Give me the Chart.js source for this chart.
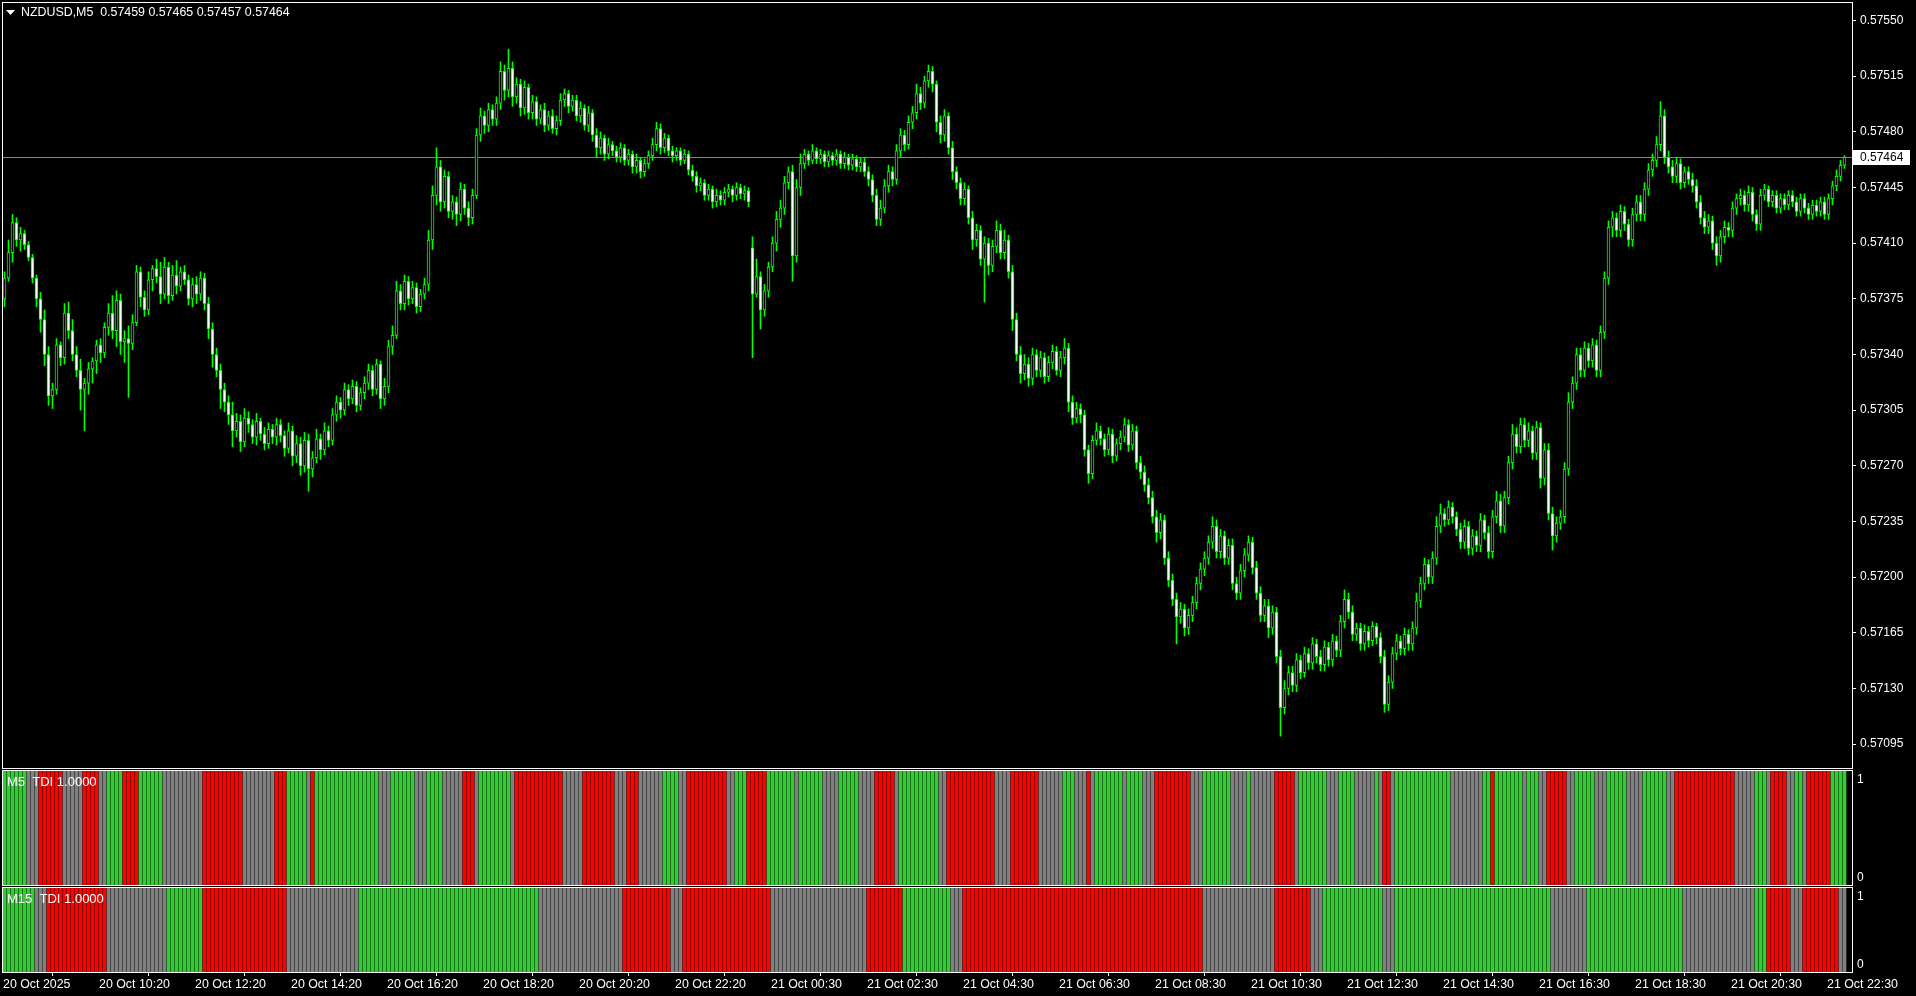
<!DOCTYPE html>
<html>
<head>
<meta charset="utf-8">
<script src="https://cdn.jsdelivr.net/npm/chart.js@4.4.1/dist/chart.umd.min.js"></script>
<style>
    html, body { margin: 0; padding: 0; background: #000; overflow: hidden; }
    body { width: 1916px; height: 996px; position: relative; }
    canvas { position: absolute; left: 0; }
    #main { top: 0; }
    #m5 { top: 766px; }
    #m15 { top: 883px; }
</style>
</head>
<body>
<canvas id="main" width="1916" height="770"></canvas>
<canvas id="m5" width="1916" height="124"></canvas>
<canvas id="m15" width="1916" height="113"></canvas>
<script>
// NZDUSD M5 bars, values in points above 0.57000
const pointBase = 0.57
const pointSize = 0.00001

const opens = [
    375,388,404,423,412,416,409,401,388,375, 362,340,314,318,346,338,366,355,340,330,
    318,322,331,336,346,341,357,366,355,374, 348,350,347,360,392,376,368,387,394,389,
    378,395,377,390,383,392,387,375,384,378, 388,372,356,340,330,318,310,302,292,298,
    285,300,296,288,298,290,284,293,288,296, 289,281,292,276,284,270,286,268,275,287,
    280,292,286,302,310,305,318,312,320,308, 316,322,330,318,334,312,320,345,352,380,
    372,386,375,382,370,378,384,412,440,458, 436,452,430,436,428,444,432,426,440,478,
    490,484,494,488,498,518,506,520,502,510, 495,508,492,499,488,494,484,490,482,487,
    500,504,496,500,490,495,484,492,478,470, 476,466,472,468,464,470,462,466,458,462,
    455,460,465,472,482,470,476,468,465,468, 462,466,456,452,446,448,440,444,436,440,
    437,442,444,440,445,441,443,407,378,389, 368,380,395,410,425,432,448,455,402,445,
    460,466,462,468,463,466,461,465,462,466, 460,464,459,463,458,461,455,450,440,425,
    432,446,455,450,468,478,472,486,492,504, 498,512,518,510,486,478,490,470,455,448,
    438,444,426,412,418,400,410,396,408,418, 404,412,392,362,340,328,334,325,340,330,
    338,326,335,342,330,338,344,310,300,306, 302,280,265,286,292,287,280,290,276,284,
    288,296,283,292,272,266,258,250,238,228, 236,212,198,186,175,180,168,176,184,196,
    205,212,222,232,216,226,212,220,196,190, 204,214,222,206,190,176,182,168,178,150,
    118,130,140,132,148,140,152,146,158,150, 145,156,148,160,154,172,186,178,164,168,
    158,166,160,169,162,150,120,134,152,160, 155,164,158,168,185,196,208,200,212,232,
    240,236,244,238,230,222,232,218,226,220, 236,228,216,238,248,232,250,272,290,282,
    296,286,292,278,294,262,280,240,226,234, 238,268,310,322,340,330,344,336,346,330,
    354,388,420,426,418,430,422,412,428,436, 428,444,456,462,472,490,464,458,452,460,
    448,455,450,446,436,426,420,424,410,402, 414,420,418,432,438,440,434,442,428,422,
    440,444,436,440,432,438,434,440,436,430, 438,432,428,434,430,436,428,438,446,452,459
]
const highs = [
    392,412,428,426,420,418,411,403,390,379, 368,345,322,350,348,372,373,362,345,337,
    325,335,338,349,350,360,372,377,380,378, 355,358,365,396,395,380,392,396,400,398,
    401,398,396,399,395,396,390,388,389,392, 391,376,360,344,334,322,314,310,303,302,
    306,304,299,303,300,294,297,296,300,299, 292,297,295,289,288,291,290,279,293,290,
    297,295,306,314,313,322,321,324,323,319, 326,334,333,337,336,325,349,358,386,384,
    390,389,386,385,381,388,418,446,470,462, 456,455,440,439,448,447,436,444,482,495,
    493,498,497,502,524,522,532,524,514,513, 512,510,503,502,497,498,493,494,490,504,
    507,506,503,503,499,497,496,494,482,480, 478,476,474,471,473,472,469,468,466,464,
    463,468,476,486,485,479,478,471,470,470, 469,468,459,455,451,450,447,446,444,443,
    445,447,446,448,447,446,445,414,400,392, 384,398,414,430,437,452,458,459,450,466,
    469,468,472,470,469,468,468,467,469,468, 467,466,466,465,464,464,458,453,444,437,
    450,459,458,472,482,481,490,496,510,508, 515,522,521,512,490,494,492,474,458,451,
    448,446,430,422,421,414,413,412,424,422, 418,415,396,366,345,340,338,344,343,342,
    341,339,346,345,342,350,347,314,310,309, 305,283,289,297,295,290,294,293,287,292,
    300,299,296,295,276,270,262,254,242,240, 239,216,202,190,184,183,180,188,200,209,
    216,226,238,236,230,229,224,224,200,208, 218,226,225,210,194,186,186,182,181,154,
    135,144,144,152,151,156,155,162,161,154, 160,159,164,163,176,192,190,182,171,171,
    170,169,172,171,165,154,138,156,164,163, 168,167,172,190,200,212,211,216,238,246,
    243,248,247,241,234,236,235,230,229,240, 239,232,242,254,252,254,276,296,294,300,
    300,297,295,298,297,284,284,244,238,242, 272,316,326,344,344,348,347,350,349,358,
    392,424,430,429,434,433,425,432,440,440, 448,460,466,477,499,494,468,462,464,463,
    458,458,454,450,440,430,428,427,414,418, 424,423,436,441,444,443,446,445,431,444,
    447,446,443,443,441,441,443,443,439,441, 441,435,437,437,439,439,441,449,456,462,465
]
const lows = [
    370,386,398,408,405,406,399,385,370,354, 333,308,306,315,333,334,350,336,326,305,
    292,315,322,328,335,338,352,350,345,340, 335,313,343,358,370,364,365,380,385,372,
    375,372,374,378,380,384,371,370,372,374, 368,350,332,326,306,304,296,282,288,279,
    282,291,284,283,286,280,281,284,283,285, 276,278,270,272,264,266,254,263,272,274,
    277,282,283,298,300,302,308,309,304,305, 312,318,314,315,306,308,316,340,350,368,
    368,371,372,366,367,375,380,406,434,430, 432,426,425,421,424,428,421,422,438,474,
    479,480,484,484,494,500,502,496,498,490, 491,488,488,484,485,480,481,479,478,484,
    496,492,493,487,486,481,480,474,464,466, 462,463,465,461,461,459,459,454,454,451,
    452,457,462,468,466,467,465,461,462,459, 460,453,449,442,443,437,437,432,433,434,
    434,439,436,437,438,437,433,338,376,356, 364,376,392,405,420,428,444,386,398,440,
    457,459,460,460,460,458,458,459,459,457, 457,456,456,455,455,452,446,436,421,421,
    429,442,446,447,464,468,469,482,488,494, 495,508,505,480,473,474,466,450,444,434,
    434,422,406,408,396,373,390,392,404,400, 400,388,355,336,322,324,320,321,326,326,
    322,323,331,327,326,334,304,296,297,297, 276,259,262,283,283,276,277,272,273,280,
    285,279,280,268,262,254,246,234,222,224, 208,194,182,158,171,163,164,172,180,192,
    201,208,218,212,212,208,208,192,186,186, 200,210,202,186,172,172,162,164,146,100,
    114,126,128,128,136,137,142,142,146,141, 141,144,144,150,150,168,174,160,160,154,
    154,156,157,158,146,115,116,130,148,151, 151,154,154,164,181,192,196,196,208,228,
    232,233,234,226,218,218,214,214,216,216, 224,212,212,234,228,228,246,268,278,278,
    282,282,274,274,256,258,236,217,222,230, 234,264,306,318,326,326,332,332,326,326,
    350,384,414,414,414,418,408,408,424,424, 424,440,452,458,468,460,454,448,448,444,
    445,447,442,432,422,416,416,406,396,398, 410,414,414,428,434,430,430,424,418,418,
    437,433,433,429,429,431,431,433,427,427, 429,425,425,427,427,425,425,434,443,449,457
]
const closes = [
    388,404,423,412,416,409,401,388,375,362, 340,314,318,346,338,366,355,340,330,318,
    322,331,336,346,341,357,366,355,374,348, 350,347,360,392,376,368,387,394,389,378,
    395,377,390,383,392,387,375,384,378,388, 372,356,340,330,318,310,302,292,298,285,
    300,296,288,298,290,284,293,288,296,289, 281,292,276,284,270,286,268,275,287,280,
    292,286,302,310,305,318,312,320,308,316, 322,330,318,334,312,320,345,352,380,372,
    386,375,382,370,378,384,412,440,458,436, 452,430,436,428,444,432,426,440,478,490,
    484,494,488,498,518,506,520,502,510,495, 508,492,499,488,494,484,490,482,487,500,
    504,496,500,490,495,484,492,478,470,476, 466,472,468,464,470,462,466,458,462,455,
    460,465,472,482,470,476,468,465,468,462, 466,456,452,446,448,440,444,436,440,437,
    442,444,440,445,441,443,436,378,389,368, 380,395,410,425,432,448,455,402,445,460,
    466,462,468,463,466,461,465,462,466,460, 464,459,463,458,461,455,450,440,425,432,
    446,455,450,468,478,472,486,492,504,498, 512,518,510,486,478,490,470,455,448,438,
    444,426,412,418,400,410,396,408,418,404, 412,392,362,340,328,334,325,340,330,338,
    326,335,342,330,338,344,310,300,306,302, 280,265,286,292,287,280,290,276,284,288,
    296,283,292,272,266,258,250,238,228,236, 212,198,186,175,180,168,176,184,196,205,
    212,222,232,216,226,212,220,196,190,204, 214,222,206,190,176,182,168,178,150,118,
    130,140,132,148,140,152,146,158,150,145, 156,148,160,154,172,186,178,164,168,158,
    166,160,169,162,150,120,134,152,160,155, 164,158,168,185,196,208,200,212,232,240,
    236,244,238,230,222,232,218,226,220,236, 228,216,238,248,232,250,272,290,282,296,
    286,292,278,294,262,280,240,226,234,238, 268,310,322,340,330,344,336,346,330,354,
    388,420,426,418,430,422,412,428,436,428, 444,456,462,472,490,464,458,452,460,448,
    455,450,446,436,426,420,424,410,402,414, 420,418,432,438,440,434,442,428,422,440,
    444,436,440,432,438,434,440,436,430,438, 432,428,434,430,436,428,438,446,452,459,464
]

const priceTicks = [0.57095, 0.57130, 0.57165, 0.57200, 0.57235, 0.57270, 0.57305,
                    0.57340, 0.57375, 0.57410, 0.57445, 0.57480, 0.57515, 0.57550]

// one time label every 24 bars (2 hours)
const barsPerLabel = 24
const timeLabels = ['20 Oct 2025', '20 Oct 10:20', '20 Oct 12:20', '20 Oct 14:20', '20 Oct 16:20',
    '20 Oct 18:20', '20 Oct 20:20', '20 Oct 22:20', '21 Oct 00:30', '21 Oct 02:30', '21 Oct 04:30',
    '21 Oct 06:30', '21 Oct 08:30', '21 Oct 10:30', '21 Oct 12:30', '21 Oct 14:30', '21 Oct 16:30',
    '21 Oct 18:30', '21 Oct 20:30', '21 Oct 22:30']

// TDI state per bar as runs: G = up, R = down, N = flat
const m5Runs = [
    ['G',6],['N',3],['R',6],['N',5],['R',4],['N',2],['G',4],['R',4],['G',6],['N',10],['R',10],['N',8],
    ['R',3],['G',5],['N',1],['R',1],['G',16],['N',3],['G',6],['N',3],['G',4],['N',5],['R',3],['N',1],
    ['G',8],['N',1],['R',12],['N',5],['R',8],['N',3],['R',3],['N',6],['G',4],['N',2],['R',10],['N',2],
    ['G',3],['R',5],['G',7],['N',1],['G',6],['N',4],['G',5],['N',4],['R',5],['N',1],['G',10],['N',2],
    ['R',12],['N',4],['R',7],['N',6],['G',3],['N',3],['R',1],['N',1],['G',7],['N',1],['G',4],['N',3],
    ['R',9],['N',3],['G',7],['N',4],['G',1],['N',6],['R',5],['N',1],['G',7],['N',3],['G',4],['N',5],
    ['G',1],['N',1],['R',2],['N',1],['G',14],['N',8],['G',2],['R',1],['G',7],['N',1],['G',3],['N',2],
    ['R',5],['N',2],['G',5],['N',3],['G',5],['N',4],['G',6],['N',2],['R',15],['N',5],['G',3],['N',1],
    ['R',4],['N',2],['G',2],['N',1],['R',6],['G',4]
]
const m15Runs = [
    ['G',8],['N',3],['R',15],['N',15],['G',9],['R',21],['N',18],['G',45],['N',21],['R',12],['N',3],
    ['R',22],['N',24],['R',9],['G',12],['N',3],['R',60],['N',18],['R',9],['N',3],['G',15],['N',3],
    ['G',39],['N',9],['G',24],['N',18],['G',3],['R',6],['N',3],['R',9],['N',2]
]

const stateColors = { G: '#32cd32', R: '#ff0000', N: '#808080' }
const uiFont = '"Liberation Sans", Arial, sans-serif'

const toPrice = (p) => +(pointBase + p * pointSize).toFixed(5)
const barCount = closes.length
// 4 px per bar inside a 1849 px plot
const xMin = -0.375
const xMax = barCount + 0.875

const frame = {
    id: 'frame',
    afterDatasetsDraw(chart) {
        const { ctx, chartArea: a } = chart
        ctx.save()
        ctx.strokeStyle = '#ffffff'
        ctx.lineWidth = 1
        ctx.strokeRect(a.left - 0.5, a.top - 0.5, a.right - a.left + 1, a.bottom - a.top + 1)
        ctx.restore()
    }
}

const priceLine = {
    id: 'priceLine',
    beforeDatasetsDraw(chart) {
        const { ctx, chartArea: a, scales: { y } } = chart
        const py = Math.round(y.getPixelForValue(toPrice(closes[barCount - 1]))) + 0.5
        ctx.save()
        ctx.strokeStyle = '#778899'
        ctx.beginPath()
        ctx.moveTo(a.left, py)
        ctx.lineTo(a.right, py)
        ctx.stroke()
        ctx.restore()
    },
    afterDraw(chart) {
        const { ctx, chartArea: a, scales: { y } } = chart
        const last = barCount - 1
        const py = Math.round(y.getPixelForValue(toPrice(closes[last])))
        ctx.save()
        ctx.fillStyle = '#ffffff'
        ctx.fillRect(a.right + 1, py - 7, 57, 15)
        ctx.fillStyle = '#000000'
        ctx.font = '12px ' + uiFont
        ctx.textBaseline = 'middle'
        ctx.fillText(toPrice(closes[last]).toFixed(5), a.right + 8, py + 1)

        // title line
        ctx.fillStyle = '#ffffff'
        ctx.beginPath()
        ctx.moveTo(6, 10)
        ctx.lineTo(15, 10)
        ctx.lineTo(10.5, 15)
        ctx.closePath()
        ctx.fill()
        ctx.font = '12.4px ' + uiFont
        const ohlc = [opens[last], highs[last], lows[last], closes[last]].map(v => toPrice(v).toFixed(5))
        ctx.fillText('NZDUSD,M5  ' + ohlc.join(' '), 21, 13)
        ctx.restore()
    }
}

const panelText = (name) => ({
    id: 'panelText',
    afterDraw(chart) {
        const { ctx, chartArea: a, scales: { y } } = chart
        ctx.save()
        ctx.fillStyle = '#ffffff'
        ctx.textBaseline = 'middle'
        ctx.font = '13px ' + uiFont
        ctx.fillText(name, a.left + 4, a.top + 11)
        ctx.font = '12px ' + uiFont
        ctx.fillText('1', a.right + 5, y.getPixelForValue(1) + 9)
        ctx.fillText('0', a.right + 5, y.getPixelForValue(0) - 7)
        ctx.restore()
    }
})

new Chart(document.getElementById('main'), {
    type: 'bar',
    data: {
        datasets: [{
            label: 'body',
            data: closes.map((c, i) => ({ x: i, y: [toPrice(Math.min(opens[i], c)), toPrice(Math.max(opens[i], c))] })),
            backgroundColor: closes.map((c, i) => c < opens[i] ? '#ffffff' : '#000000'),
            borderColor: '#00ff00',
            borderWidth: 1,
            borderSkipped: false,
            barThickness: 3,
            minBarLength: 1,
            grouped: false,
            order: 0
        }, {
            label: 'wick',
            data: highs.map((h, i) => ({ x: i, y: [toPrice(lows[i]), toPrice(h)] })),
            backgroundColor: '#00ff00',
            barThickness: 1,
            grouped: false,
            order: 1
        }]
    },
    options: {
        responsive: false,
        animation: false,
        events: [],
        layout: { padding: { left: 3, top: 3, right: 0, bottom: 2 } },
        plugins: { legend: { display: false }, tooltip: { enabled: false } },
        scales: {
            x: { type: 'linear', min: xMin, max: xMax, offset: false, display: false },
            y: {
                position: 'right',
                min: toPrice(80.24),
                max: toPrice(560.68),
                afterFit: (s) => { s.width = 64; s.paddingTop = 0; s.paddingBottom = 0 },
                afterBuildTicks: (s) => { s.ticks = priceTicks.map(v => ({ value: v })) },
                ticks: {
                    color: '#ffffff',
                    padding: 4,
                    font: { family: uiFont, size: 12 },
                    callback: (v) => v.toFixed(5)
                },
                grid: { drawOnChartArea: false, tickLength: 4, color: '#ffffff' },
                border: { display: false }
            }
        }
    },
    plugins: [priceLine, frame]
})

const showTdi = (canvas_id, runs, name, withTimeAxis) => {
    const colors = runs.flatMap(([s, n]) => Array(n).fill(stateColors[s]))
    const x = { type: 'linear', min: xMin, max: xMax, offset: false, display: false }
    if (withTimeAxis) {
        Object.assign(x, {
            display: true,
            afterFit: (s) => { s.height = 24; s.paddingLeft = 0; s.paddingRight = 0 },
            afterBuildTicks: (s) => { s.ticks = timeLabels.map((_, k) => ({ value: k * barsPerLabel })) },
            ticks: {
                color: '#ffffff',
                align: 'start',
                autoSkip: false,
                maxRotation: 0,
                padding: 1,
                labelOffset: -1.5,
                font: { family: uiFont, size: 12.4 },
                callback: (v, i) => timeLabels[i]
            },
            grid: { drawOnChartArea: false, tickLength: 4, color: '#ffffff' },
            border: { display: false }
        })
    }
    new Chart(document.getElementById(canvas_id), {
        type: 'bar',
        data: {
            datasets: [{
                data: colors.map((_, i) => ({ x: i, y: 1 })),
                backgroundColor: colors,
                barThickness: 3
            }]
        },
        options: {
            responsive: false,
            animation: false,
            events: [],
            layout: { padding: { left: 3, top: 5, right: 64, bottom: withTimeAxis ? 0 : 5 } },
            plugins: { legend: { display: false }, tooltip: { enabled: false } },
            scales: {
                x: x,
                y: { min: 0, max: 1, display: false }
            }
        },
        plugins: [frame, panelText(name)]
    })
}

showTdi('m5', m5Runs, 'M5  TDI 1.0000', false)
showTdi('m15', m15Runs, 'M15  TDI 1.0000', true)
</script>
</body>
</html>
